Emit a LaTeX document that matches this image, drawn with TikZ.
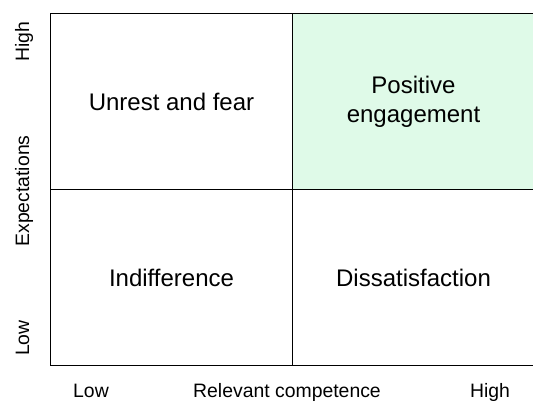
\documentclass[tikz,border=0pt]{standalone}
\usepackage{fontspec}
\setmainfont{Liberation Sans}
\usetikzlibrary{positioning}
\definecolor{lightgreen}{RGB}{223,250,232}

\begin{document}
\begin{tikzpicture}[x=1pt, y=-1pt, node distance=0pt,
    quad/.style={draw, line width=1.8pt, minimum width=242pt, minimum height=176pt,
        inner sep=0pt, outer sep=0pt, align=center, font=\fontsize{24}{29}\selectfont},
    axislabel/.style={font=\fontsize{19.4}{23}\selectfont, inner sep=0pt, anchor=base}]

    \useasboundingbox (0,0) rectangle (533,402);

    \node[quad, anchor=north west] (UF) at (50.5,13.5) {Unrest and fear};
    \node[quad, fill=lightgreen, right=of UF] (PE) {Positive\\engagement};
    \node[quad, below=of UF] (IN) {Indifference};
    \node[quad, below=of PE] (DS) {Dissatisfaction};

    \node[axislabel] (xlow) at (91,397) {Low};
    \node[axislabel] (xname) at (287,397) {Relevant competence};
    \node[axislabel] (xhigh) at (490,397) {High};

    \node[axislabel, rotate=90] (yhigh) at (29,42) {High};
    \node[axislabel, rotate=90] (yname) at (29,191) {Expectations};
    \node[axislabel, rotate=90] (ylow) at (29,338) {Low};
\end{tikzpicture}
\end{document}
